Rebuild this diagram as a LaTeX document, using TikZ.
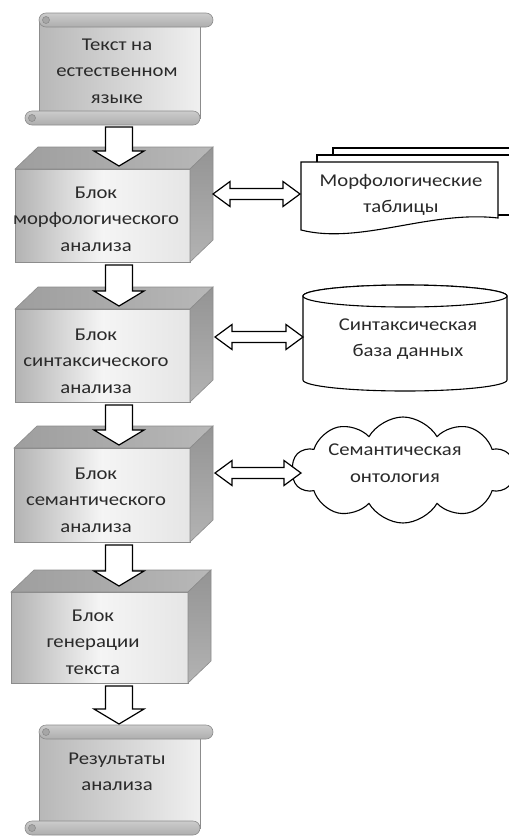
\documentclass[tikz,border=0pt]{standalone}
\usepackage{fontspec}
\setmainfont{Carlito}[FakeStretch=1.15]
\usetikzlibrary{calc,shapes.symbols}
\definecolor{txtc}{HTML}{2A2A2A}
\definecolor{edgec}{HTML}{8C8C8C}
\tikzset{
  txt/.style={align=center,font=\fontsize{18}{26.5}\selectfont,text=txtc,inner sep=0pt},
  fatarrow/.style={draw=black,fill=white,line width=1.2pt,line join=miter},
  outl/.style={draw=black,line width=1.1pt,fill=white},
  frontface/.style={draw=edgec,line width=0.6pt,left color=black!30,right color=black!10,middle color=black!4},
  topface/.style={draw=edgec,line width=0.6pt,left color=black!38,right color=black!28},
  sideface/.style={draw=edgec,line width=0.6pt,top color=black!42,bottom color=black!30},
  scrollbody/.style={draw=edgec,line width=0.6pt,left color=black!28,right color=black!6},
  scrollroll/.style={draw=edgec,line width=0.6pt,top color=black!20,bottom color=black!32},
}
\newcommand\blockbox[4]{%
  \path[frontface] (#1,#3) rectangle (#2,#4);
  \path[topface] (#1,#3) -- ({#1+23},{#3-22}) -- ({#2+23},{#3-22}) -- (#2,#3) -- cycle;
  \path[sideface] (#2,#3) -- ({#2+23},{#3-22}) -- ({#2+23},{#4-22}) -- (#2,#4) -- cycle;
}
\newcommand\scrollshape[4]{%
  \path[scrollbody] ({#1+14},{#2+7}) rectangle ({#3-13},{#4-7});
  \path[scrollroll,rounded corners=7pt] ({#1+14},#2) rectangle (#3,{#2+14});
  \path[scrollroll,rounded corners=7pt] (#1,{#4-14}) rectangle ({#3-13},#4);
  \draw[edgec,line width=0.6pt,fill=black!35] ({#1+21},{#2+7}) circle[radius=3.5pt];
  \draw[edgec,line width=0.6pt,fill=black!35] ({#1+7},{#4-7}) circle[radius=3.5pt];
}
\newcommand\fatdown[2]{%
  \draw[fatarrow] let \p1=(#1), \p2=(#2) in
   ({\x1-13.5pt},\y1) -- ({\x1-13.5pt},{\y2+15pt}) -- ({\x1-25pt},{\y2+15pt}) -- (\x1,\y2)
   -- ({\x1+25pt},{\y2+15pt}) -- ({\x1+13.5pt},{\y2+15pt}) -- ({\x1+13.5pt},\y1) -- cycle;
}
\newcommand\fatboth[2]{%
  \draw[fatarrow] let \p1=(#1), \p2=(#2) in
   (\x1,\y1) -- ({\x1+17pt},{\y1+12.5pt}) -- ({\x1+17pt},{\y1+5.5pt}) -- ({\x2-17pt},{\y1+5.5pt})
   -- ({\x2-17pt},{\y1+12.5pt}) -- (\x2,\y1) -- ({\x2-17pt},{\y1-12.5pt}) -- ({\x2-17pt},{\y1-5.5pt})
   -- ({\x1+17pt},{\y1-5.5pt}) -- ({\x1+17pt},{\y1-12.5pt}) -- cycle;
}
\begin{document}
\begin{tikzpicture}[x=1pt,y=-1pt]
\useasboundingbox (0,0) rectangle (509,836);
\clip (0,0) rectangle (509,836);
\fill[white] (0,0) rectangle (509,836);
% left column
\scrollshape{25}{13}{213}{125}
\node[txt] (s1) at (117,71) {Текст на\\естественном\\языке};
\blockbox{15}{190}{169}{262}
\node[txt] (b1) at (96,219) {Блок\\морфологического\\анализа};
\blockbox{15}{190}{309}{402}
\node[txt] (b2) at (96,361) {Блок\\синтаксического\\анализа};
\blockbox{14}{190}{448}{542}
\node[txt] (b3) at (96,500) {Блок\\семантического\\анализа};
\blockbox{11}{188}{592}{683}
\node[txt] (b4) at (93,642) {Блок\\генерации\\текста};
\scrollshape{25}{725}{213}{835}
\node[txt] (s2) at (117,772) {Результаты\\анализа};
% right column
\path[outl] (333,148) rectangle (530,208);
\path[outl] (317,155) rectangle (515,215);
\path[outl] (301,162) -- (498,162) -- (498,218) .. controls (430,210) and (360,245) .. (301,230) -- cycle;
\node[txt] (m) at (401,195) {Морфологические\\таблицы};
\path[outl] (303,296) -- (303,380) arc[start angle=180,end angle=360,x radius=102pt,y radius=11pt]
  -- (507,296) arc[start angle=0,end angle=180,x radius=102pt,y radius=11pt] -- cycle;
\draw[outl] (405,296) ellipse[x radius=102pt,y radius=11pt];
\node[txt] (c) at (408,339) {Синтаксическая\\база данных};
\node[cloud,draw=black,line width=1.1pt,fill=white,cloud puffs=10,cloud puff arc=120,aspect=2.2,
  minimum width=222,minimum height=106] (cl) at (403,470) {};
\node[txt] (o) at (395,463) {Семантическая\\онтология};
% connectors
\coordinate (a1s) at (119,127); \coordinate (a1e) at (119,166);
\coordinate (a2s) at (119,265); \coordinate (a2e) at (119,306);
\coordinate (a3s) at (119,405); \coordinate (a3e) at (119,445);
\coordinate (a4s) at (119,545); \coordinate (a4e) at (119,586);
\coordinate (a5s) at (119,686); \coordinate (a5e) at (119,724);
\fatdown{a1s}{a1e}
\fatdown{a2s}{a2e}
\fatdown{a3s}{a3e}
\fatdown{a4s}{a4e}
\fatdown{a5s}{a5e}
\coordinate (b1r) at (213,194); \coordinate (m1l) at (300,194);
\coordinate (b2r) at (215,337); \coordinate (c1l) at (303,337);
\coordinate (b3r) at (215,473); \coordinate (o1l) at (301,473);
\fatboth{b1r}{m1l}
\fatboth{b2r}{c1l}
\fatboth{b3r}{o1l}
\end{tikzpicture}
\end{document}
